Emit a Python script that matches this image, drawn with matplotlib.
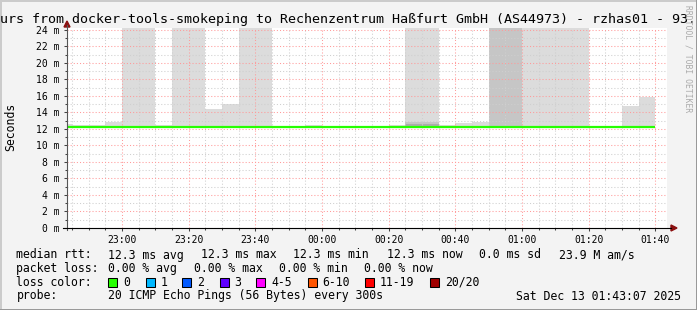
import numpy as np
import matplotlib
matplotlib.use("Agg")
import matplotlib.pyplot as plt
import matplotlib.transforms as mtransforms
from matplotlib.patches import Rectangle, Polygon
from matplotlib.lines import Line2D

# 5 minute slots, minutes after 22:40
slot_start = np.arange(0, 180, 5)
# top of the smoke per slot (ms), 30 = goes off the top of the graph
smoke_top = [12.64, 12.45, 12.45, 12.9, 30, 30, 12.45, 30, 30, 14.4, 15.0, 30,
             30, 12.4, 12.4, 12.5, 12.4, 12.4, 12.4, 12.4, 12.45, 30, 30, 12.5,
             12.77, 12.9, 30, 30, 30, 30, 30, 30, 12.4, 12.4, 14.8, 15.84]
# denser smoke (darker grey), 0 = none
dense_top = [0, 0, 0, 0, 0, 0, 0, 0, 0, 0, 0, 0,
             0, 0, 0, 0, 0, 0, 0, 0, 0, 12.9, 12.9, 0,
             0, 0, 30, 30, 0, 0, 0, 0, 0, 0, 0, 0]
darkest_top = [0, 0, 0, 0, 0, 0, 0, 0, 0, 0, 0, 0,
               0, 0, 0, 0, 0, 0, 0, 0, 0, 12.64, 12.64, 0,
               0, 0, 0, 0, 0, 0, 0, 0, 0, 0, 0, 0]
smoke_bottom = 12.2
median_rtt = [12.3] * 36

x_ticks = [20, 40, 60, 80, 100, 120, 140, 160, 180]
x_labels = ["23:00", "23:20", "23:40", "00:00", "00:20", "00:40", "01:00", "01:20", "01:40"]
y_ticks = [0, 2, 4, 6, 8, 10, 12, 14, 16, 18, 20, 22, 24]

loss_labels = ["0", "1", "2", "3", "4-5", "6-10", "11-19", "20/20"]
loss_colors = ["#26ff00", "#00b8ff", "#0059ff", "#5e00ff", "#ff00ff", "#ff5500", "#ff0000", "#a00000"]

W, H = 697, 310
mono = "DejaVu Sans Mono"

fig = plt.figure(figsize=(W / 100, H / 100), dpi=100, facecolor="#f3f3f3")
pix = mtransforms.Affine2D().scale(1 / W, -1 / H).translate(0, 1) + fig.transFigure

# plot area 67..667 x 28..228
ax = fig.add_axes([67 / W, 1 - 228 / H, 600 / W, 200 / H])
ax.set_facecolor("white")
ax.set_xlim(3.5, 183.5)
ax.set_ylim(0, 24.24)

# smoke
for t, top, dn, dk in zip(slot_start, smoke_top, dense_top, darkest_top):
    ax.bar(t, top - smoke_bottom, width=5, bottom=smoke_bottom, align="edge",
           color="#dcdcdc", linewidth=0, zorder=1)
    if dn:
        ax.bar(t, dn - smoke_bottom, width=5, bottom=smoke_bottom, align="edge",
               color="#c6c6c6", linewidth=0, zorder=1.1)
    if dk:
        ax.bar(t, dk - smoke_bottom, width=5, bottom=smoke_bottom, align="edge",
               color="#acacac", linewidth=0, zorder=1.2)

# median line
ax.step(list(slot_start) + [180], median_rtt + [median_rtt[-1]], where="post",
        color="#26ff00", lw=1.6, zorder=4, solid_capstyle="butt")

# grid
ax.set_xticks(x_ticks)
ax.set_xticklabels(x_labels)
ax.set_xticks(np.arange(5, 185, 5), minor=True)
ax.set_yticks(y_ticks)
ax.set_yticklabels([f"{v} m" for v in y_ticks])
ax.set_yticks(np.arange(1, 25, 1), minor=True)
ax.grid(which="minor", color="#cfcfcf", linestyle=(0, (1, 2)), lw=0.75, zorder=2)
ax.grid(which="major", color="#ff9a9a", linestyle=(0, (1, 2)), lw=0.75, zorder=3)
ax.set_axisbelow(False)
for s in ax.spines.values():
    s.set_visible(False)
ax.tick_params(axis="both", which="major", length=2.2, width=0.75, color="#444444",
               labelsize=7, labelcolor="black")
ax.tick_params(axis="both", which="minor", length=1.4, width=0.75, color="#444444")
ax.tick_params(axis="x", pad=2.5)
ax.tick_params(axis="y", pad=3)
for lab in ax.get_xticklabels() + ax.get_yticklabels():
    lab.set_family(mono)

# axis lines with arrows
fig.add_artist(Line2D([67, 67], [230, 25], color="#555555", lw=0.8, transform=pix))
fig.add_artist(Line2D([63, 671], [228, 228], color="black", lw=0.8, transform=pix))
fig.add_artist(Polygon([[67, 21], [64, 27], [70, 27]], closed=True, color="#8b1010", transform=pix))
fig.add_artist(Polygon([[677, 228], [671, 225], [671, 231]], closed=True, color="#8b1010", transform=pix))

# title (clipped at both sides like the original)
fig.text(0.5, 19, "urs from docker-tools-smokeping to Rechenzentrum Haßfurt GmbH (AS44973) - rzhas01 - 93.",
         transform=pix, family=mono, fontsize=9.6, ha="left", va="center")
fig.text(10.5, 127, "Seconds", transform=pix, family=mono, fontsize=8.3,
         rotation=90, ha="center", va="center")
fig.text(688, 59, "RRDTOOL / TOBI OETIKER", transform=pix, family=mono, fontsize=5.8,
         rotation=270, ha="center", va="center", color="#aaaaaa")

# legend rows
fs = 8.3
row1 = [(16.5, "median rtt:"), (108, "12.3 ms avg"), (201, "12.3 ms max"), (293, "12.3 ms min"),
        (387, "12.3 ms now"), (479, "0.0 ms sd"), (559, "23.9 M am/s")]
row2 = [(16.5, "packet loss:"), (108, "0.00 % avg"), (194, "0.00 % max"), (279, "0.00 % min"),
        (364, "0.00 % now")]
for x, s in row1:
    fig.text(x, 255, s, transform=pix, family=mono, fontsize=fs, va="center")
for x, s in row2:
    fig.text(x, 268.5, s, transform=pix, family=mono, fontsize=fs, va="center")

fig.text(16.5, 282, "loss color:", transform=pix, family=mono, fontsize=fs, va="center")
box_x = [108, 146, 182, 219.5, 256, 307.5, 365, 430]
for bx, lab, col in zip(box_x, loss_labels, loss_colors):
    fig.add_artist(Rectangle((bx, 286.5), 9, -9, facecolor=col, edgecolor="black",
                             lw=0.75, transform=pix))
    fig.text(bx + 15, 282, lab, transform=pix, family=mono, fontsize=fs, va="center")

fig.text(16.5, 296, "probe:", transform=pix, family=mono, fontsize=fs, va="center")
fig.text(108, 296, "20 ICMP Echo Pings (56 Bytes) every 300s", transform=pix,
         family=mono, fontsize=fs, va="center")
fig.text(681, 296, "Sat Dec 13 01:43:07 2025", transform=pix, family=mono,
         fontsize=fs, va="center", ha="right")

# frame around the image
fig.add_artist(Rectangle((0, 0), W, 1.5, color="#cbcbcb", lw=0, transform=pix))
fig.add_artist(Rectangle((0, 0), 1.5, H, color="#cbcbcb", lw=0, transform=pix))
fig.add_artist(Rectangle((0, H - 1.5), W, 1.5, color="#999999", lw=0, transform=pix))
fig.add_artist(Rectangle((W - 1.5, 0), 1.5, H, color="#999999", lw=0, transform=pix))

fig.savefig("out.png", dpi=100, facecolor=fig.get_facecolor())
